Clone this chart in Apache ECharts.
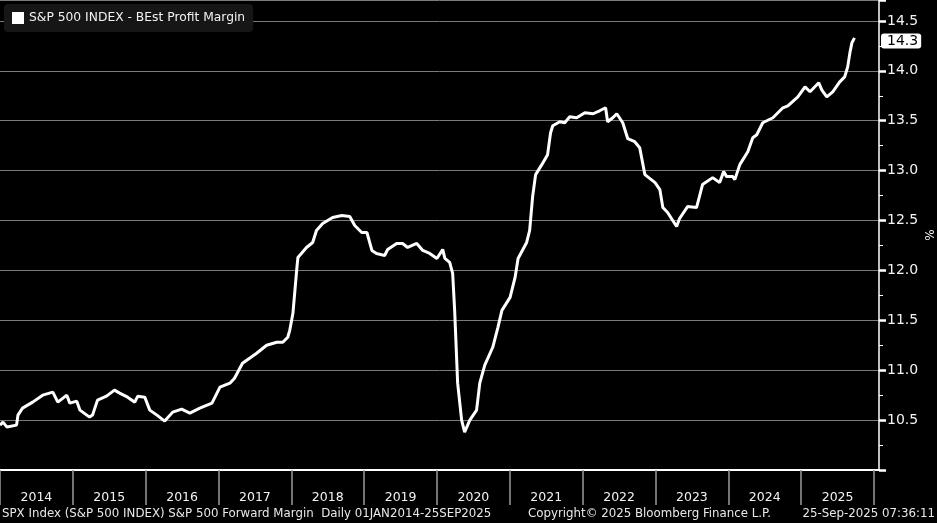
<!DOCTYPE html>
<html>
<head>
<meta charset="utf-8">
<script src="https://cdn.jsdelivr.net/npm/echarts@6/dist/echarts.min.js"></script>
<style>
html,body{margin:0;padding:0;background:#000;}
#chart{width:937px;height:523px;}
</style>
</head>
<body>
<div id="chart"></div>
<script>
const seriesName = 'S&P 500 INDEX - BEst Profit Margin';
const years = ['2014','2015','2016','2017','2018','2019','2020','2021','2022','2023','2024','2025'];
const dates = [
'2014-01-01','2014-01-16','2014-02-05','2014-03-25','2014-04-01','2014-04-24','2014-06-14','2014-08-03','2014-09-23','2014-10-18','2014-12-02','2014-12-17',
'2015-01-21','2015-02-06','2015-03-26','2015-04-10','2015-05-05','2015-06-19','2015-07-29','2015-08-24','2015-10-03','2015-11-08','2015-11-23','2015-12-28',
'2016-01-22','2016-02-27','2016-04-06','2016-05-16','2016-06-30','2016-08-10','2016-09-29','2016-11-29',
'2017-01-08','2017-02-27','2017-03-22','2017-05-01','2017-07-11','2017-08-30','2017-10-20','2017-11-19','2017-12-14','2017-12-24',
'2018-01-09','2018-01-29','2018-02-03','2018-03-18','2018-04-18','2018-05-07','2018-06-07','2018-07-27','2018-09-11','2018-10-21','2018-11-15','2018-12-20',
'2019-01-15','2019-02-09','2019-03-04','2019-04-14','2019-04-29','2019-06-13','2019-07-13','2019-08-07','2019-09-22','2019-10-22','2019-11-26',
'2020-01-01','2020-01-30','2020-02-10','2020-03-05','2020-03-20','2020-03-30','2020-04-14','2020-05-04','2020-05-19','2020-06-14','2020-07-18','2020-08-03','2020-08-28','2020-10-07','2020-11-02','2020-11-22',
'2021-01-02','2021-01-27','2021-02-11','2021-03-26','2021-04-10','2021-04-25','2021-05-10','2021-06-10','2021-07-09','2021-07-24','2021-08-04','2021-09-08','2021-10-03','2021-10-28','2021-12-02',
'2022-01-12','2022-02-22','2022-03-27','2022-04-26','2022-05-06','2022-06-01','2022-06-21','2022-07-21','2022-08-15','2022-09-19','2022-10-14','2022-11-09','2022-12-30',
'2023-01-23','2023-02-07','2023-03-03','2023-04-17','2023-05-02','2023-06-11','2023-07-26','2023-08-25','2023-10-15','2023-11-19','2023-12-09','2023-12-24',
'2024-01-24','2024-02-03','2024-02-28','2024-04-08','2024-05-03','2024-05-23','2024-06-22','2024-08-12','2024-10-01','2024-10-26','2024-12-15',
'2025-01-20','2025-02-14','2025-03-30','2025-04-14','2025-05-09','2025-06-08','2025-07-13','2025-08-07','2025-08-22','2025-09-02','2025-09-12','2025-09-25'
];
const margins = [
10.45,10.48,10.43,10.45,10.55,10.62,10.68,10.75,10.78,10.68,10.75,10.67,
10.69,10.60,10.53,10.55,10.70,10.74,10.80,10.77,10.73,10.68,10.74,10.73,
10.60,10.55,10.49,10.58,10.61,10.57,10.62,10.67,
10.83,10.87,10.92,11.07,11.17,11.25,11.28,11.28,11.33,11.40,
11.57,12.03,12.13,12.23,12.28,12.40,12.47,12.53,12.55,12.54,12.45,12.38,
12.38,12.20,12.17,12.15,12.21,12.27,12.27,12.23,12.27,12.20,12.17,
12.12,12.21,12.12,12.08,11.97,11.60,10.87,10.50,10.38,10.50,10.60,10.87,11.05,11.23,11.43,11.60,
11.73,11.93,12.12,12.28,12.40,12.74,12.96,13.06,13.16,13.38,13.45,13.49,13.48,13.54,13.53,
13.58,13.57,13.60,13.63,13.49,13.53,13.57,13.48,13.32,13.29,13.23,12.96,12.88,
12.81,12.63,12.58,12.44,12.52,12.64,12.63,12.86,12.93,12.88,12.99,12.94,
12.94,12.91,13.06,13.19,13.33,13.36,13.48,13.53,13.63,13.65,13.74,
13.84,13.79,13.88,13.81,13.74,13.79,13.89,13.94,14.04,14.18,14.28,14.33
];
const lastValue = 14.3;
const footerLeft = 'SPX Index (S&P 500 INDEX) S&P 500 Forward Margin  Daily 01JAN2014-25SEP2025';
const footerMid = 'Copyright\u00A9 2025 Bloomberg Finance L.P.';
const footerRight = '25-Sep-2025 07:36:11';

const FONT = 'DejaVu Sans';
const chart = echarts.init(document.getElementById('chart'), null, {renderer:'canvas'});
const footStyle = {color:'#e8e8e8', fontSize: 11.8, fontWeight:'normal', fontFamily: FONT};
const option = {
  backgroundColor: '#000',
  animation: false,
  textStyle: {fontFamily: FONT},
  title: [
    {text: footerLeft, left: 2, top: 508, textStyle: footStyle, padding: 0},
    {text: footerMid, left: 528, top: 508, textStyle: footStyle, padding: 0},
    {text: footerRight, right: 2, top: 508, textStyle: footStyle, padding: 0}
  ],
  legend: {
    left: 4, top: 4,
    data: [seriesName],
    icon: 'rect', itemWidth: 12, itemHeight: 12, itemGap: 6,
    backgroundColor: '#161616', borderRadius: 4,
    padding: [8, 8, 8, 8],
    textStyle: {color: '#f2f2f2', fontSize: 12.3, fontFamily: FONT},
    selectedMode: false
  },
  grid: [
    {left: 0, right: 58, top: 0, bottom: 53, containLabel: false, outerBoundsMode: 'none'},
    {left: 0, right: 63, top: 0, bottom: 53, containLabel: false, outerBoundsMode: 'none'}
  ],
  xAxis: [
    {
      type: 'time', gridIndex: 0,
      min: '2014-01-01', max: '2026-01-26',
      axisLine: {show: true, lineStyle: {color: '#ffffff', width: 2}},
      axisTick: {show: false}, axisLabel: {show: false},
      splitLine: {show: false}
    },
    {
      type: 'category', gridIndex: 1, data: years, boundaryGap: true,
      axisLine: {show: false},
      axisTick: {show: true, length: 35, lineStyle: {color: '#9a9a9a', width: 1.5}},
      axisLabel: {color: '#f2f2f2', fontSize: 12.5, margin: 21, fontFamily: FONT},
      splitLine: {show: false}
    }
  ],
  yAxis: [
    {
      type: 'value', gridIndex: 0, position: 'right',
      min: 10, max: 14.71, interval: 0.5,
      name: '%', nameLocation: 'middle', nameGap: 46, nameRotate: 90,
      nameMoveOverlap: false,
      nameTextStyle: {color: '#f2f2f2', fontSize: 12, fontFamily: FONT},
      axisLine: {show: true, lineStyle: {color: '#ffffff', width: 1.5}},
      axisTick: {show: true, length: 7, lineStyle: {color: '#ffffff', width: 2.5}},
      minorTick: {show: true, splitNumber: 2, length: 4, lineStyle: {color: '#ffffff', width: 1}},
      axisLabel: {
        color: '#f2f2f2', fontSize: 14, margin: 8, fontFamily: FONT,
        formatter: function (v) { return (v <= 10.001 || v > 14.6) ? '' : v.toFixed(1); }
      },
      splitLine: {show: true, lineStyle: {color: '#7a7a7a', width: 1}},
      axisPointer: {
        show: true, value: lastValue, status: 'show', snap: false,
        triggerTooltip: false, triggerEmphasis: false,
        lineStyle: {opacity: 0},
        label: {
          show: true, backgroundColor: '#ffffff', color: '#000000',
          fontSize: 14, fontFamily: FONT, padding: [1, 3, 0, 6], margin: 2,
          formatter: function (p) { return Number(p.value).toFixed(1); }
        },
        handle: {show: false}
      }
    },
    {
      type: 'value', gridIndex: 1, show: false, min: 0, max: 1
    }
  ],
  series: [
    {
      name: seriesName, type: 'line', xAxisIndex: 0, yAxisIndex: 0,
      data: dates.map((d, i) => [d, margins[i]]),
      showSymbol: false, symbol: 'none',
      lineStyle: {color: '#ffffff', width: 3},
      itemStyle: {color: '#ffffff'},
      silent: true
    }
  ]
};
chart.setOption(option);
</script>
</body>
</html>
